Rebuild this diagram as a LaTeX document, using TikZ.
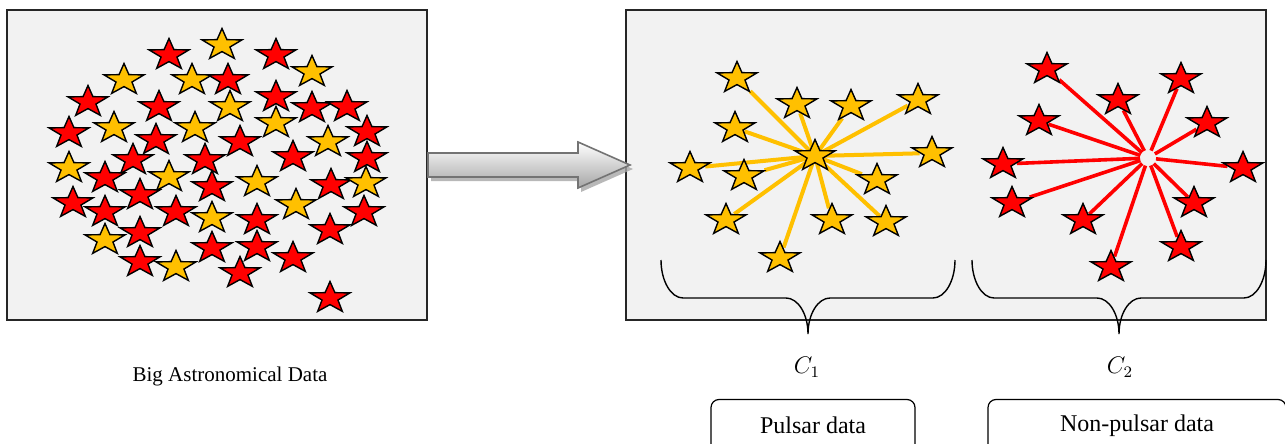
\documentclass[tikz,border=0pt]{standalone}
\usepackage{fontspec}
\setmainfont{Liberation Serif}
\usetikzlibrary{shapes.geometric,shadows}
\definecolor{pulsar}{HTML}{FFC000}
\definecolor{other}{HTML}{FF0000}
\definecolor{panelgray}{HTML}{F2F2F2}
\pgfdeclarelayer{panel}
\pgfdeclarelayer{wires}
\pgfsetlayers{panel,wires,main}

\begin{document}
\begin{tikzpicture}[x=0.5pt,y=-0.5pt,
    datastar/.style={star,star points=5,star point ratio=2.5,draw=black,line width=0.7pt,inner sep=0pt,minimum size=16.5pt,xscale=1.27},
    panelbox/.style={draw=black!85,line width=1pt,fill=panelgray,inner sep=0pt},
    pulsarlink/.style={pulsar,line width=2pt},
    otherlink/.style={other,line width=1.8pt},
    brace/.style={black,line width=0.7pt},
    classbox/.style={draw,rounded corners=4pt,line width=0.6pt,minimum height=26pt,font=\fontsize{12}{14}\selectfont}]
    \useasboundingbox (0,0) rectangle (1285,444);

    \begin{pgfonlayer}{panel}
    \node[panelbox, minimum width=210pt, minimum height=155pt] (raw) at (217,165) {};
    \node[panelbox, minimum width=320pt, minimum height=155pt] (clus) at (946,165) {};
    \end{pgfonlayer}

    % unlabelled data
    \foreach \x/\y/\c [count=\i] in {169/55/other, 222/45/pulsar, 276/55/other, 312/72/pulsar,
        124/80/pulsar, 192/80/pulsar, 228/80/other, 88/102/other, 159/107/other, 230/107/pulsar,
        276/97/other, 312/108/other, 347/107/other, 69/133/other, 114/128/pulsar, 195/128/pulsar,
        276/123/pulsar, 156/140/other, 240/142/other, 328/142/pulsar, 367/132/other, 133/160/other,
        205/160/other, 293/157/other, 367/158/other, 69/168/pulsar, 105/178/other, 169/177/pulsar,
        212/187/other, 257/182/pulsar, 331/185/other, 366/183/pulsar, 73/203/other, 105/212/other,
        140/195/other, 176/212/other, 212/218/pulsar, 257/220/other, 296/205/pulsar, 364/212/other,
        330/230/other, 105/240/pulsar, 140/233/other, 212/248/other, 257/247/other, 293/258/other,
        140/262/other, 176/267/pulsar, 240/273/other, 330/298/other}
        \node[datastar, fill=\c] (s\i) at (\x,\y) {};

    % cluster C1
    \node[datastar, fill=pulsar] (p0) at (815,156) {};
    \foreach \x/\y [count=\i] in {737/78, 797/104, 851/106, 918/100, 735/128, 690/168, 744/176,
        932/153, 877/180, 726/220, 832/220, 886/222, 780/258}
        \node[datastar, fill=pulsar] (p\i) at (\x,\y) {};
    \begin{pgfonlayer}{wires}
    \foreach \i in {1,...,13}
        \draw[pulsarlink] (p0.center) -- (p\i);
    \end{pgfonlayer}

    % cluster C2
    \coordinate (hub) at (1148,158);
    \foreach \x/\y [count=\i] in {1047/69, 1118/100, 1181/79, 1039/121, 1207/123, 1003/164,
        1243/168, 1012/203, 1194/203, 1083/220, 1181/247, 1111/267}
        \node[datastar, fill=other] (n\i) at (\x,\y) {};
    \begin{pgfonlayer}{wires}
    \foreach \i in {1,...,12}
        \draw[otherlink, shorten <=4pt] (hub) -- (n\i);
    \end{pgfonlayer}

    % block arrow
    \draw[draw=black!55, line width=0.8pt, top color=white, bottom color=black!35,
        drop shadow={shadow xshift=1.5pt, shadow yshift=-2pt, fill=black!35, opacity=0.8}]
        ([yshift=6pt]raw.east) -- ++(150,0) -- ++(0,-11) -- ++(52,23) -- ++(-52,23)
        -- ++(0,-11) -- ++(-150,0) -- cycle;

    % braces
    \foreach \dx in {0,311}
        \draw[brace, shift={(\dx,0)}] (661,260) .. controls (661,281) and (671,298) .. (683,298)
            -- (786,298) .. controls (798,298) and (808,314) .. (808,334)
            .. controls (808,314) and (818,298) .. (830,298)
            -- (933,298) .. controls (945,298) and (955,281) .. (955,260);

    \node[font=\fontsize{12}{14}\selectfont] (c1) at (807,367) {$C_1$};
    \node[font=\fontsize{12}{14}\selectfont] (c2) at (1120,367) {$C_2$};
    \node[font=\fontsize{10.5}{12}\selectfont] (rawlabel) at (230,376) {Big Astronomical Data};
    \node[classbox, minimum width=102pt] (pbox) at (813,425.5) {Pulsar data};
    \node[classbox, minimum width=149pt] (nbox) at (1137,425.5) {Non-pulsar data};
\end{tikzpicture}
\end{document}
